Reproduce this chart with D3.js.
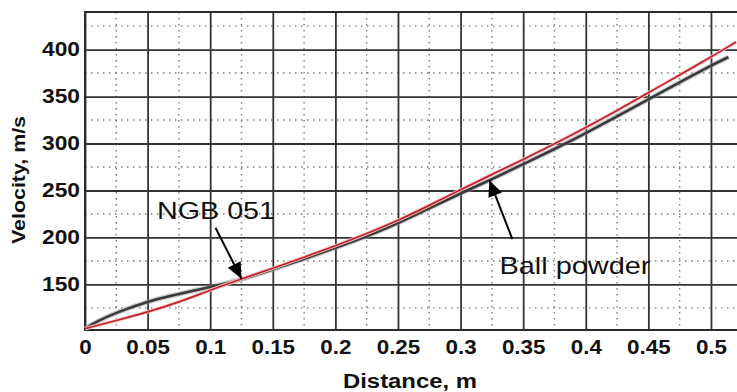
<!DOCTYPE html>
<html>
<head>
<meta charset="utf-8">
<script src="https://cdn.jsdelivr.net/npm/d3@7"></script>
<style>
  body { margin: 0; background: #fff; }
  svg { display: block; font-family: "Liberation Sans", Arial, sans-serif; }
</style>
</head>
<body>
<svg id="chart" width="737" height="392"></svg>
<script>
// velocity vs distance, two propellants

const distance = [0, 0.025, 0.05, 0.075, 0.1, 0.125, 0.15, 0.175, 0.2, 0.225, 0.25,
  0.275, 0.3, 0.325, 0.35, 0.375, 0.4, 0.425, 0.45, 0.475, 0.5, 0.52];
const redVelocity = [103, 111.5, 120.5, 131, 144, 156, 167, 179, 191, 204, 218,
  234, 251, 267, 283, 299.5, 317, 335, 354, 373, 392, 408];

const blackDistance = [0, 0.01, 0.025, 0.05, 0.075, 0.1, 0.125, 0.15, 0.175, 0.2, 0.225,
  0.25, 0.275, 0.3, 0.325, 0.35, 0.375, 0.4, 0.425, 0.45, 0.475, 0.5, 0.514];
const blackVelocity = [103, 111, 120, 132, 140, 147, 155, 166, 177, 189, 201,
  215, 231, 247, 262, 278, 294, 311, 329, 347, 365, 383, 392];

const xTicks = [0, 0.05, 0.1, 0.15, 0.2, 0.25, 0.3, 0.35, 0.4, 0.45, 0.5];
const xMinor = [0.025, 0.075, 0.125, 0.175, 0.225, 0.275, 0.325, 0.375, 0.425, 0.475];
const yTicks = [150, 200, 250, 300, 350, 400];
const yMinor = [125, 175, 225, 275, 325, 375, 425];

// annotations: tip in data units
const notes = [
  { label: "NGB 051", tip: [0.125, 156] },
  { label: "Ball powder", tip: [0.323, 261] },
];

const plotLeft = 85, plotRight = 737, plotTop = 12, plotBottom = 330;

const svg = d3.select("#chart");

const x = d3.scaleLinear().domain([0, 0.5208]).range([plotLeft, plotRight]);
const y = d3.scaleLinear().domain([101.5, 440]).range([plotBottom, plotTop]);

// minor dotted grid
svg.append("g")
  .selectAll("line")
  .data(xMinor)
  .enter()
  .append("line")
  .attr("x1", (d) => x(d))
  .attr("x2", (d) => x(d))
  .attr("y1", plotTop)
  .attr("y2", plotBottom)
  .attr("stroke", "#7a7a7a")
  .attr("stroke-width", 1.4)
  .attr("stroke-dasharray", "1.5,4.5");

svg.append("g")
  .selectAll("line")
  .data(yMinor)
  .enter()
  .append("line")
  .attr("x1", plotLeft)
  .attr("x2", plotRight)
  .attr("y1", (d) => y(d))
  .attr("y2", (d) => y(d))
  .attr("stroke", "#7a7a7a")
  .attr("stroke-width", 1.4)
  .attr("stroke-dasharray", "1.5,4.5");

// major grid
const xGrid = d3.axisBottom(x).tickValues(xTicks).tickSize(-(plotBottom - plotTop)).tickFormat("");
const yGrid = d3.axisLeft(y).tickValues(yTicks).tickSize(-(plotRight - plotLeft)).tickFormat("");

svg.append("g")
  .attr("transform", "translate(0," + plotBottom + ")")
  .call(xGrid)
  .call((g) => g.select(".domain").remove())
  .selectAll("line")
  .attr("stroke", "#333")
  .attr("stroke-width", 1.8);

svg.append("g")
  .attr("transform", "translate(" + plotLeft + ",0)")
  .call(yGrid)
  .call((g) => g.select(".domain").remove())
  .selectAll("line")
  .attr("stroke", "#333")
  .attr("stroke-width", 1.8);

// frame
svg.append("path")
  .attr("d", `M${plotRight},${plotTop}H${plotLeft}V${plotBottom}H${plotRight}`)
  .attr("fill", "none")
  .attr("stroke", "#2a2a2a")
  .attr("stroke-width", 2);

// tick labels
const xAxis = d3.axisBottom(x).tickValues(xTicks).tickSize(0).tickPadding(10)
  .tickFormat((d) => String(+d.toFixed(2)));
const gx = svg.append("g")
  .attr("transform", "translate(0," + plotBottom + ")")
  .call(xAxis);
gx.select(".domain").remove();
gx.selectAll("text")
  .attr("font-family", "Liberation Sans, Arial, sans-serif")
  .attr("font-size", 20)
  .attr("font-weight", "bold")
  .attr("fill", "#111")
  .attr("transform", "scale(1.12,1)");

const yAxis = d3.axisLeft(y).tickValues(yTicks).tickSize(0).tickPadding(5);
const gy = svg.append("g")
  .attr("transform", "translate(" + plotLeft + ",0)")
  .call(yAxis);
gy.select(".domain").remove();
gy.selectAll("text")
  .attr("font-family", "Liberation Sans, Arial, sans-serif")
  .attr("font-size", 20)
  .attr("font-weight", "bold")
  .attr("fill", "#111")
  .attr("textLength", 38)
  .attr("lengthAdjust", "spacingAndGlyphs");

// axis titles
svg.append("text")
  .attr("x", 410)
  .attr("y", 388)
  .attr("text-anchor", "middle")
  .attr("font-size", 20)
  .attr("font-weight", "bold")
  .attr("fill", "#111")
  .attr("textLength", 134)
  .attr("lengthAdjust", "spacingAndGlyphs")
  .text("Distance, m");

svg.append("text")
  .attr("transform", "translate(25,180) rotate(-90)")
  .attr("text-anchor", "middle")
  .attr("font-size", 19)
  .attr("font-weight", "bold")
  .attr("fill", "#111")
  .attr("textLength", 128)
  .attr("lengthAdjust", "spacingAndGlyphs")
  .text("Velocity, m/s");

// curves
const blackPts = blackDistance.map((d, i) => [d, blackVelocity[i]]);
const redPts = distance.map((d, i) => [d, redVelocity[i]]);
const line = d3.line().x((d) => x(d[0])).y((d) => y(d[1])).curve(d3.curveBasis);

svg.append("path")
  .attr("d", line(blackPts))
  .attr("fill", "none")
  .attr("stroke", "#9a9a9a")
  .attr("stroke-width", 5)
  .attr("opacity", 0.5);
svg.append("path")
  .attr("d", line(blackPts))
  .attr("fill", "none")
  .attr("stroke", "#3a3a3a")
  .attr("stroke-width", 2.6);

svg.append("path")
  .attr("d", line(redPts))
  .attr("fill", "none")
  .attr("stroke", "#f2c4c4")
  .attr("stroke-width", 3.4);
svg.append("path")
  .attr("d", line(redPts))
  .attr("fill", "none")
  .attr("stroke", "#c0232b")
  .attr("stroke-width", 1.7);

// arrows + labels
svg.append("defs")
  .append("marker")
  .attr("id", "head")
  .attr("viewBox", "0 0 10 10")
  .attr("refX", 10)
  .attr("refY", 5)
  .attr("markerWidth", 9)
  .attr("markerHeight", 8)
  .attr("markerUnits", "strokeWidth")
  .attr("orient", "auto")
  .append("path")
  .attr("d", "M0,0.5L10,5L0,9.5z")
  .attr("fill", "#000");

const tails = [[-26, -51], [23, 59]];
const labelPos = [[216, 219, 118], [575, 274, 151]];

notes.forEach((n, i) => {
  const tx = x(n.tip[0]), ty = y(n.tip[1]);
  svg.append("line")
    .attr("x1", tx + tails[i][0])
    .attr("y1", ty + tails[i][1])
    .attr("x2", tx)
    .attr("y2", ty)
    .attr("stroke", "#000")
    .attr("stroke-width", 2)
    .attr("marker-end", "url(#head)");
  svg.append("text")
    .attr("x", labelPos[i][0])
    .attr("y", labelPos[i][1])
    .attr("text-anchor", "middle")
    .attr("font-size", 24)
    .attr("fill", "#111")
    .attr("textLength", labelPos[i][2])
    .attr("lengthAdjust", "spacingAndGlyphs")
    .text(n.label);
});
</script>
</body>
</html>
